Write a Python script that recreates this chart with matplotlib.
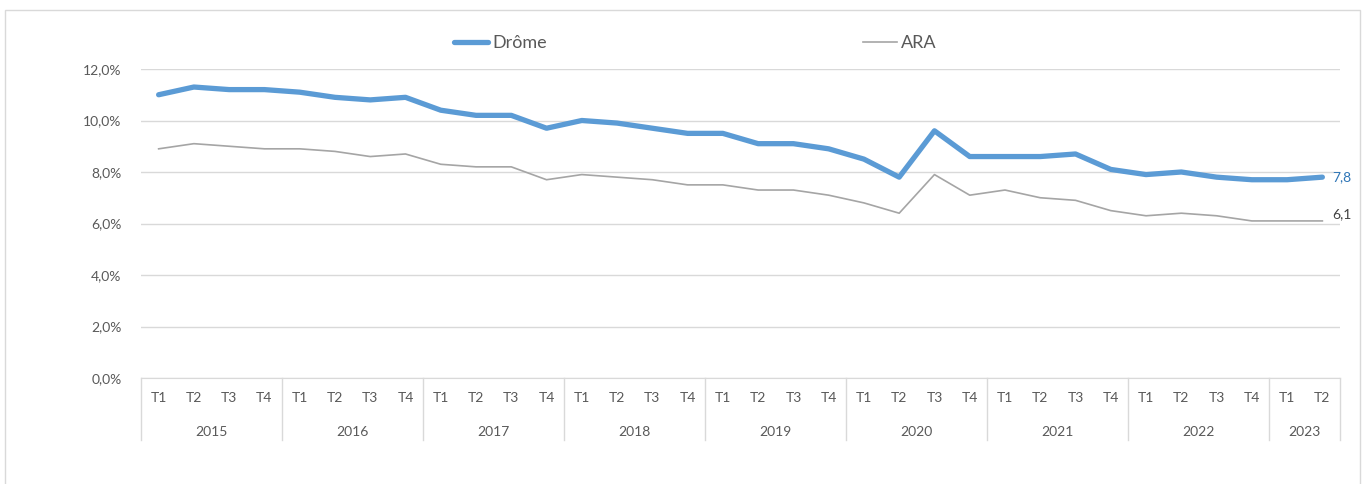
import matplotlib.pyplot as plt
from matplotlib.patches import Rectangle

plt.rcParams['font.family'] = ['Lato', 'DejaVu Sans']

years = ['2015', '2016', '2017', '2018', '2019', '2020', '2021', '2022', '2023']
quarters_per_year = [4, 4, 4, 4, 4, 4, 4, 4, 2]

drome = [11.0, 11.3, 11.2, 11.2,
         11.1, 10.9, 10.8, 10.9,
         10.4, 10.2, 10.2, 9.7,
         10.0, 9.9, 9.7, 9.5,
         9.5, 9.1, 9.1, 8.9,
         8.5, 7.8, 9.6, 8.6,
         8.6, 8.6, 8.7, 8.1,
         7.9, 8.0, 7.8, 7.7,
         7.7, 7.8]

ara = [8.9, 9.1, 9.0, 8.9,
       8.9, 8.8, 8.6, 8.7,
       8.3, 8.2, 8.2, 7.7,
       7.9, 7.8, 7.7, 7.5,
       7.5, 7.3, 7.3, 7.1,
       6.8, 6.4, 7.9, 7.1,
       7.3, 7.0, 6.9, 6.5,
       6.3, 6.4, 6.3, 6.1,
       6.1, 6.1]

quarters = []
for n in quarters_per_year:
    quarters += ['T%d' % (k + 1) for k in range(n)]

W, H = 1365, 484
fig = plt.figure(figsize=(W / 100, H / 100), dpi=100)
fig.patches.append(Rectangle((5 / W, -0.1), 1355 / W, 1.1 - 10 / H, transform=fig.transFigure,
                             fill=False, edgecolor='#d9d9d9', linewidth=1))

ax = fig.add_axes([141 / W, 1 - 378 / H, 1199 / W, 309 / H])
x = list(range(len(drome)))

blue = '#5b9bd5'
grey = '#a5a5a5'
ax.plot(x, drome, color=blue, linewidth=3.8, solid_capstyle='round', solid_joinstyle='round', label='Drôme')
ax.plot(x, ara, color=grey, linewidth=1.2, label='ARA')

ax.set_xlim(-0.5, len(x) - 0.5)
ax.set_ylim(0, 12)
ax.set_yticks(range(0, 13, 2))
ax.set_yticklabels(['%d,0%%' % v for v in range(0, 13, 2)], color='#595959', fontsize=10)
ax.tick_params(axis='y', length=0, pad=14)
ax.grid(axis='y', color='#d9d9d9', linewidth=1)
ax.set_axisbelow(True)
for s in ['top', 'right', 'left']:
    ax.spines[s].set_visible(False)
ax.spines['bottom'].set_color('#d9d9d9')
ax.set_xticks([])

# two-level category axis
tr = ax.get_xaxis_transform()
for i, q in enumerate(quarters):
    ax.text(i, -0.065, q, transform=tr, ha='center', va='center', fontsize=10, color='#595959')
start = 0
seps = [-0.5]
for yr, n in zip(years, quarters_per_year):
    ax.text(start + (n - 1) / 2, -0.175, yr, transform=tr, ha='center', va='center',
            fontsize=10, color='#595959')
    start += n
    seps.append(start - 0.5)
for s in seps:
    ax.plot([s, s], [0, -0.2], transform=tr, color='#d9d9d9', linewidth=1, clip_on=False)

# end labels
ax.annotate('7,8', (x[-1], drome[-1]), xytext=(7, 0), textcoords='offset points',
            ha='left', va='center', fontsize=10, color='#2e75b6')
ax.annotate('6,1', (x[-1], ara[-1]), xytext=(7, 5), textcoords='offset points',
            ha='left', va='center', fontsize=10, color='#404040')

fig.legend(loc='center', bbox_to_anchor=(695 / W, 1 - 43 / H), ncol=2, frameon=False,
           fontsize=13, handlelength=1.9, handletextpad=0.2, columnspacing=17.5,
           labelcolor='#595959')

fig.savefig('out.png', dpi=100)
